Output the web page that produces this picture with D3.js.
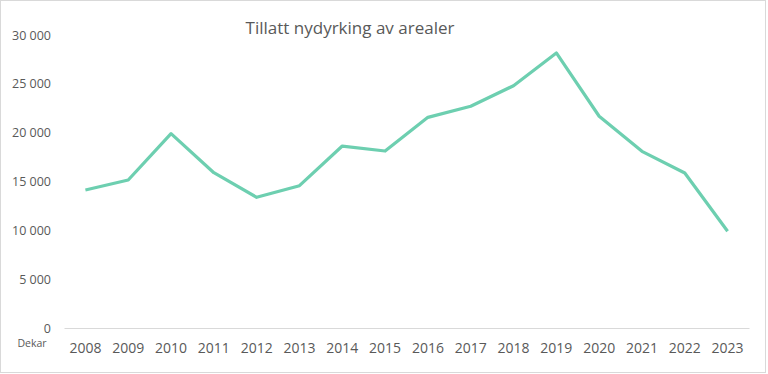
<!DOCTYPE html>
<html>
<head>
<meta charset="utf-8">
<script src="https://d3js.org/d3.v7.min.js"></script>
<style>
  body { margin: 0; background: #fff; }
  .axis text { fill: #595959; }
</style>
</head>
<body>
<div id="chart"></div>
<script>
var years = ['2008', '2009', '2010', '2011', '2012', '2013', '2014', '2015',
             '2016', '2017', '2018', '2019', '2020', '2021', '2022', '2023'];
var dekar = [14130, 15150, 19900, 15900, 13380, 14570, 18630, 18120,
             21570, 22700, 24810, 28160, 21680, 18090, 15870, 9900];
var yTicks = [0, 5000, 10000, 15000, 20000, 25000, 30000];

var data = years.map(function(y, i) { return { year: y, value: dekar[i] }; });

var W = 768, H = 374;
var margin = { top: 35, right: 19, bottom: 46, left: 64 };
var width = W - margin.left - margin.right,
    height = H - margin.top - margin.bottom;

var svg = d3.select('#chart')
    .append('svg')
    .attr('width', W)
    .attr('height', H);

// outer frame
svg.append('rect')
    .attr('x', 0.5).attr('y', 0.5)
    .attr('width', W - 3).attr('height', H - 2)
    .attr('fill', 'white')
    .attr('stroke', '#d9d9d9');

var g = svg.append('g')
    .attr('transform', 'translate(' + margin.left + ',' + margin.top + ')');

var xScale = d3.scaleBand()
    .domain(years)
    .range([0, width]);

var yScale = d3.scaleLinear()
    .domain([0, 30000])
    .range([height, 0]);

var fmt = function(d) { return d3.format(',')(d).replace(/,/g, '\u00a0'); };

var yAxis = d3.axisLeft(yScale)
    .tickValues(yTicks)
    .tickSize(0)
    .tickPadding(13)
    .tickFormat(fmt);

g.append('g')
    .attr('class', 'y-axis axis')
    .call(yAxis)
    .call(function(s) { s.select('.domain').remove(); })
    .selectAll('text')
    .style('font-family', 'Open Sans, sans-serif')
    .style('font-size', '12.5px');

var xAxis = d3.axisBottom(xScale)
    .tickSize(0)
    .tickPadding(15);

g.append('g')
    .attr('class', 'x-axis axis')
    .attr('transform', 'translate(0,' + height + ')')
    .call(xAxis)
    .call(function(s) { s.select('.domain').attr('stroke', '#d9d9d9'); })
    .selectAll('text')
    .style('font-family', 'Open Sans, sans-serif')
    .style('font-size', '14px');

var line = d3.line()
    .x(function(d) { return xScale(d.year) + xScale.bandwidth() / 2; })
    .y(function(d) { return yScale(d.value); });

g.append('path')
    .datum(data)
    .attr('fill', 'none')
    .attr('stroke', '#6dcfb0')
    .attr('stroke-width', 3.2)
    .attr('stroke-linejoin', 'round')
    .attr('d', line);

svg.append('text')
    .attr('x', 350)
    .attr('y', 34)
    .attr('text-anchor', 'middle')
    .attr('fill', '#595959')
    .style('font-family', 'Open Sans, sans-serif')
    .style('font-size', '17px')
    .text('Tillatt nydyrking av arealer');

svg.append('text')
    .attr('x', 32)
    .attr('y', 347)
    .attr('text-anchor', 'middle')
    .attr('fill', '#595959')
    .style('font-family', 'Open Sans, sans-serif')
    .style('font-size', '10.5px')
    .text('Dekar');
</script>
</body>
</html>
